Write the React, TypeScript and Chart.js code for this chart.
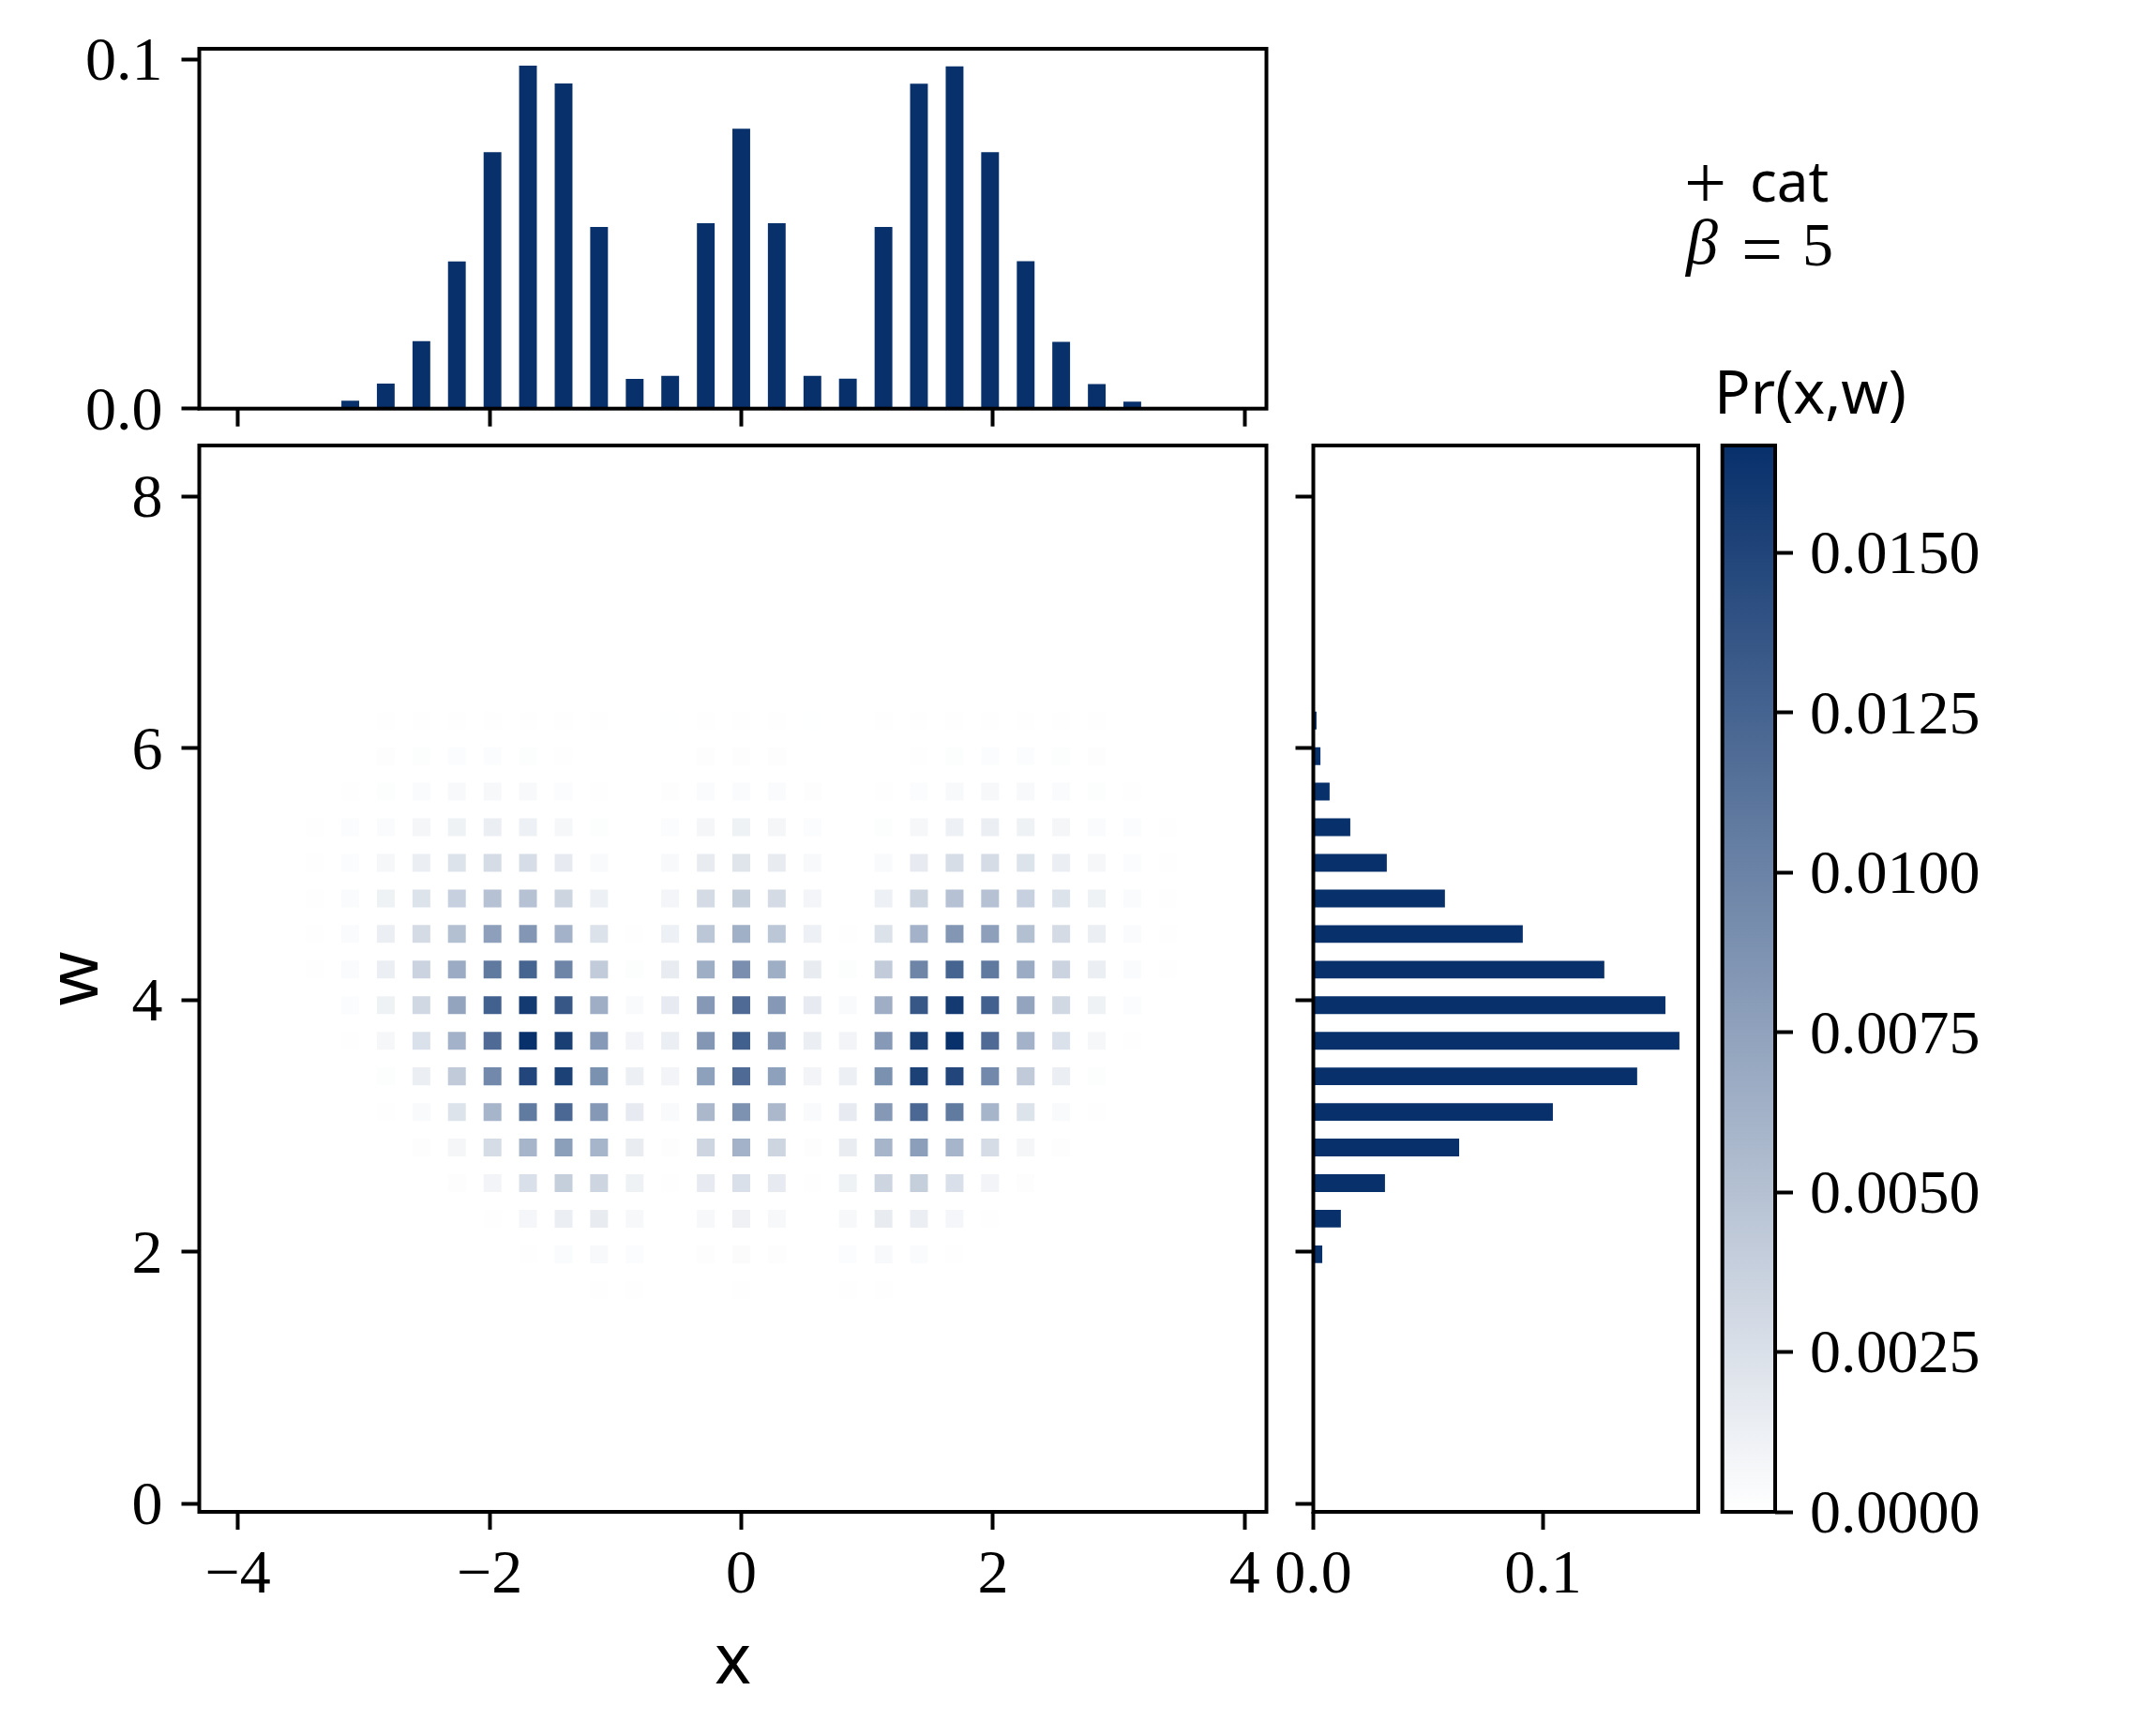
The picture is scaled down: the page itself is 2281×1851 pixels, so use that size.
import React, {useEffect, useRef} from "react";
import Chart from 'chart.js/auto';

const PAGE_W = 2281
const PAGE_H = 1851

// marginal over x
const topX = [-3.107,-2.825,-2.542,-2.260,-1.977,-1.695,-1.412,-1.130,-0.847,-0.565,-0.282,0,0.282,0.565,0.847,1.130,1.412,1.695,1.977,2.260,2.542,2.825,3.107]
const topValues = [0.0023,0.0072,0.0193,0.0421,0.0734,0.0982,0.0931,0.052,0.0085,0.0094,0.0531,0.0801,0.0531,0.0094,0.0086,0.052,0.093,0.098,0.0734,0.0422,0.0191,0.007,0.002]

// marginal over w
const sideW = [6.220,5.937,5.655,5.372,5.090,4.807,4.525,4.242,3.960,3.677,3.395,3.112,2.830,2.547,2.265,1.982]
const sideValues = [0.0014,0.0031,0.0071,0.0161,0.032,0.0573,0.0912,0.1267,0.1533,0.1594,0.141,0.1043,0.0635,0.0312,0.012,0.0039]

// joint, in units of 1e-4
const cellX = [-3.390,-3.107,-2.825,-2.542,-2.260,-1.977,-1.695,-1.412,-1.130,-0.847,-0.565,-0.282,0,0.282,0.565,0.847,1.130,1.412,1.695,1.977,2.260,2.542,2.825,3.107,3.390]
const cellW = [6.220,5.937,5.655,5.372,5.090,4.807,4.525,4.242,3.960,3.677,3.395,3.112,2.830,2.547,2.265,1.982,1.700]
const cellValues = [
    [0,0,0.5,0.7,0.8,1,1,0.8,0.5,0,0.4,0.7,0.8,0.7,0.4,0,0.5,0.8,1,1,0.8,0.7,0.5,0,0],
    [0,0,1.4,2,2.7,2.7,2,0.7,0,0,0,1.4,1.4,1.4,0,0,0,0.7,2,2.7,2.7,2,1.4,0,0],
    [0,0.7,2,3.4,4.7,6,4.7,2.7,0.7,0,1.4,3.4,3.4,3.4,1.4,0,0.7,2.7,4.7,6,4.7,3.4,2,0.7,0],
    [0.7,2.7,3.4,7.4,10.8,13.5,12,6.8,2,0,2.7,7.4,10.8,7.4,2.7,0,2,6.8,12,13.5,10.8,7.4,3.4,2.7,0.7],
    [0.8,2.7,6.8,13.5,22.7,28.4,27,16,4,0,4.7,15.5,21,15.5,4.7,0,4,16,27,28.4,22.7,13.5,6.8,2.7,0.8],
    [0.8,3.4,10.8,22.7,37.5,49,49,34,12,0,8,29,39,29,8,0,12,34,49,49,37.5,22.7,10.8,3.4,0.8],
    [0.8,3.4,13.5,29,51,77,84,62,23.6,0.5,12,46,64,46,12,0.5,23.6,62,84,77,51,29,13.5,3.4,0.8],
    [0.7,3.4,13.5,35.8,68,108,125,98,42,2,15.7,65.6,90,65.6,15.7,2,42,98,125,108,68,35.8,13.5,3.4,0.7],
    [0,2.7,10.8,31.8,73,127,159,135,65,4,16,82.5,119,82.5,16,4,65,135,159,127,73,31.8,10.8,2.7,0],
    [0,0.5,6.8,24,62,119,167,155,82,9,13.5,84,128,84,13.5,9,82,155,167,119,62,24,6.8,0.5,0],
    [0,0,2,13.5,42.6,95,149,153,89,12.8,9,76,119,76,9,12.8,89,153,149,95,42.6,13.5,2,0,0],
    [0,0,0.5,4,22.7,59.5,107,122,82.5,16,4,57,88,57,4,16,82.5,122,107,59.5,22.7,4,0.5,0,0],
    [0,0,0,1.4,7.4,28.4,59.5,78,59.5,14.6,1.4,34,62,34,1.4,14.6,59.5,78,59.5,28.4,7.4,1.4,0,0,0],
    [0,0,0,0,1.4,9,25,39,34,10.8,0.5,16,25,16,0.5,10.8,34,39,25,9,1.4,0,0,0,0],
    [0,0,0,0,0,1,7,13.5,15.7,6,0,6,11,6,0,6,15.7,13.5,7,1,0,0,0,0,0],
    [0,0,0,0,0,0,1,3.4,4.7,2.7,0,1.4,3,1.4,0,2.7,4.7,3.4,1,0,0,0,0,0,0],
    [0,0,0,0,0,0,0,0,0.7,0.5,0,0.3,0.5,0.3,0,0.5,0.7,0,0,0,0,0,0,0,0],
]

const xTicks = [-4,-2,0,2,4]
const wTicks = [0,2,4,6,8]
const topTicks = [0,0.1]
const sideTicks = [0,0.1]
const barTicks = [0,0.0025,0.005,0.0075,0.01,0.0125,0.015]
const colorMax = 0.01668

const NAVY = '#08306b'
const TICK_FONT = {family:'"Liberation Serif"', size:66, lineHeight:1}
const LABEL_FONT = {family:'"Noto Sans"', size:74, lineHeight:1}

// white -> navy, same as the colour bar
const cellColor = (v:number) => {
    const t = Math.min(v/colorMax, 1)
    const r = Math.round(255 + (8-255)*t)
    const g = Math.round(255 + (48-255)*t)
    const b = Math.round(255 + (107-255)*t)
    return `rgb(${r},${g},${b})`
}

const cellPoints:any[] = []
const cellColors:string[] = []
cellValues.forEach((row, j) => {
    row.forEach((v, i) => {
        if(v>0){
            cellPoints.push({x:cellX[i], y:cellW[j]})
            cellColors.push(cellColor(v*1e-4))
        }
    })
})

const minus = (v:number) => String(v).replace('-', '\u2212')

// all four sides of each panel
const frame = {
    id:'frame',
    afterDraw(chart:any){
        const {ctx, chartArea:a} = chart
        ctx.save()
        ctx.strokeStyle = '#000'
        ctx.lineWidth = 4
        ctx.strokeRect(a.left, a.top, a.right-a.left, a.bottom-a.top)
        ctx.restore()
    }
}

const notes = {
    id:'notes',
    afterDraw(chart:any){
        const ctx = chart.ctx
        ctx.save()
        ctx.fillStyle = '#000'
        ctx.textBaseline = 'alphabetic'
        ctx.textAlign = 'left'
        ctx.font = '80px "Liberation Serif"'
        ctx.fillText('+', 1796, 222)
        ctx.font = '60px "Noto Sans"'
        ctx.fillText('cat', 1866, 215)
        ctx.font = 'italic 68px "Liberation Serif"'
        ctx.fillText('\u03b2', 1798, 281)
        ctx.font = '78px "Liberation Serif"'
        ctx.fillText('=', 1857, 292)
        ctx.font = '66px "Liberation Serif"'
        ctx.fillText('5', 1922, 283)
        ctx.font = '64px "Noto Sans"'
        ctx.fillText('Pr(x,w)', 1828, 441)
        ctx.restore()
    }
}

// fixes the box of an axis so the plot area lands where it should
const fixHeight = (h:number) => (s:any) => {
    s.paddingLeft = s.paddingRight = s.paddingTop = s.paddingBottom = 0
    s.height = h
}
const fixWidth = (w:number) => (s:any) => {
    s.paddingLeft = s.paddingRight = s.paddingTop = s.paddingBottom = 0
    s.width = w
}

const axis = (min:number, max:number, ticks:number[], size:number, horizontal:boolean, extra:any = {}) => ({
    type:'linear',
    min, max,
    offset:false,
    afterBuildTicks:(s:any) => { s.ticks = ticks.map(value => ({value})) },
    afterFit: horizontal ? fixHeight(size) : fixWidth(size),
    border:{display:false},
    grid:{offset:false, drawOnChartArea:false, drawTicks:true, tickLength:19, tickWidth:4, tickColor:'#000'},
    ...extra,
    ticks:{
        color:'#000', font:TICK_FONT, padding:horizontal ? 17 : 20, labelOffset:horizontal ? 0 : 4.5,
        autoSkip:false, maxRotation:0, minRotation:0,
        callback:(v:number) => minus(String(v) as any),
        ...(extra.ticks||{}),
    },
})

const box = (left:number, top:number, right:number, bottom:number, axisW:number, axisH:number) => ({
    padding:{left:left-axisW, top, right:PAGE_W-right, bottom:PAGE_H-bottom-axisH}
})

const base = {
    responsive:false,
    animation:false,
    devicePixelRatio:1,
    events:[],
    plugins:{legend:{display:false}, tooltip:{enabled:false}, title:{display:false}},
}

const configs = ():any[] => [
    // joint
    {
        type:'scatter',
        data:{datasets:[{
            data:cellPoints,
            backgroundColor:cellColors,
            borderWidth:0,
            pointStyle:'rect',
            pointRadius:13.44,
        }]},
        options:{
            ...base,
            layout:box(212.5, 475, 1350.5, 1612, 212.5, 239),
            scales:{
                x:axis(-4.307, 4.173, xTicks, 239, true, {
                    title:{display:true, text:'x', color:'#000', font:LABEL_FONT, padding:{top:0, bottom:40}},
                }),
                y:axis(-0.0625, 8.403, wTicks, 212.5, false, {
                    title:{display:true, text:'w', color:'#000', font:LABEL_FONT, padding:{top:46, bottom:0}},
                }),
            },
        },
        plugins:[frame],
    },
    // top marginal
    {
        type:'bar',
        data:{datasets:[{
            data:topX.map((x,i) => ({x, y:topValues[i]})),
            backgroundColor:NAVY,
            barPercentage:0.5,
            categoryPercentage:1,
        }]},
        options:{
            ...base,
            layout:box(212.5, 52, 1350.5, 435.7, 212.5, 20),
            scales:{
                x:axis(-4.307, 4.173, xTicks, 20, true, {ticks:{display:false}}),
                y:axis(0, 0.103, topTicks, 212.5, false, {ticks:{callback:(v:number) => v.toFixed(1)}}),
            },
        },
        plugins:[frame],
    },
    // side marginal
    {
        type:'bar',
        data:{datasets:[{
            data:sideW.map((y,i) => ({x:sideValues[i], y})),
            backgroundColor:NAVY,
            barPercentage:0.5,
            categoryPercentage:1,
        }]},
        options:{
            ...base,
            indexAxis:'y',
            layout:box(1400.5, 475, 1811, 1612, 25, 239),
            scales:{
                x:axis(0, 0.1676, sideTicks, 239, true, {ticks:{callback:(v:number) => v.toFixed(1)}}),
                y:axis(-0.0625, 8.403, wTicks, 25, false, {ticks:{display:false}}),
            },
        },
        plugins:[frame],
    },
    // colour bar
    {
        type:'bar',
        data:{labels:['Pr(x,w)'], datasets:[{
            data:[[0, colorMax]],
            barPercentage:1,
            categoryPercentage:1,
            backgroundColor:(c:any) => {
                const a = c.chart.chartArea
                if(!a) return NAVY
                const g = c.chart.ctx.createLinearGradient(0, a.bottom, 0, a.top)
                g.addColorStop(0, '#ffffff')
                g.addColorStop(1, NAVY)
                return g
            },
        }]},
        options:{
            ...base,
            layout:{padding:{left:1836.7, top:475, right:0, bottom:PAGE_H-1612}},
            scales:{
                x:{display:false},
                y:axis(0, colorMax, barTicks, PAGE_W-1893, false, {
                    position:'right',
                    ticks:{padding:18, callback:(v:number) => v.toFixed(4)},
                }),
            },
        },
        plugins:[frame, notes],
    },
]

const App = () => {
    const refs = useRef<(HTMLCanvasElement|null)[]>([])

    useEffect(()=>{
        const charts = configs().map((cfg, i) => new Chart(refs.current[i] as HTMLCanvasElement, cfg))
        return ()=>{charts.forEach(c => c.destroy())}
    }, [])

    return (
        <div style={{position:'absolute', left:0, top:0, width:PAGE_W, height:PAGE_H, background:'#fff', overflow:'hidden'}}>
            {[0,1,2,3].map(i => (
                <canvas
                    key={i}
                    ref={el => {refs.current[i] = el}}
                    width={PAGE_W}
                    height={PAGE_H}
                    style={{position:'absolute', left:0, top:0, width:PAGE_W, height:PAGE_H}}
                />
            ))}
        </div>
    )
}

export default App
